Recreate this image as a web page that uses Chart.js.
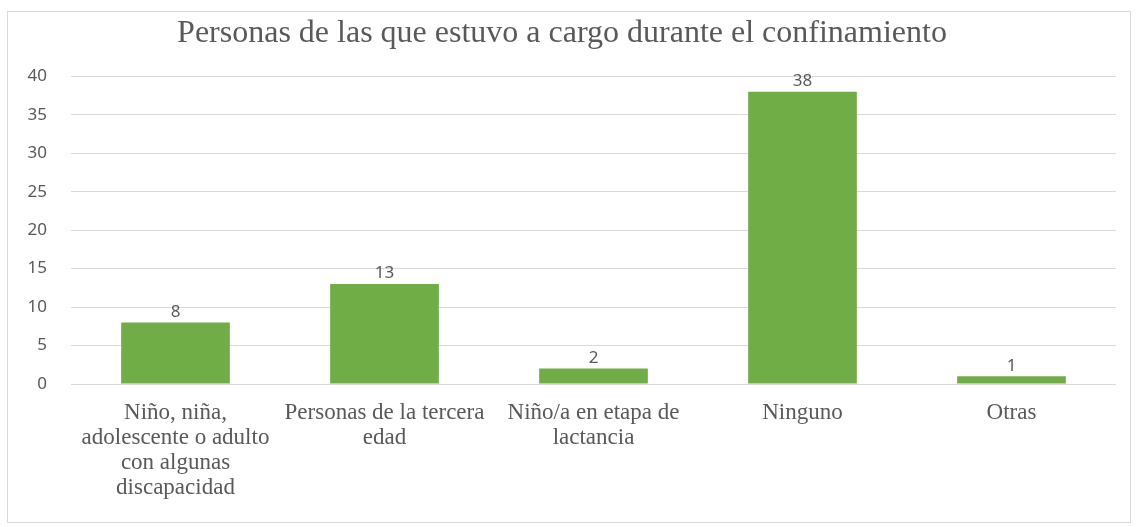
<!DOCTYPE html>
<html>
<head>
<meta charset="utf-8">
<script src="https://cdn.jsdelivr.net/npm/chart.js@4"></script>
<style>
  html, body { margin: 0; padding: 0; background: #fff; }
  #frame {
    position: absolute; left: 7px; top: 11px;
    width: 1122px; height: 510px;
    border: 1px solid #d9d9d9;
  }
</style>
</head>
<body>
<div id="frame"><canvas id="chart"></canvas></div>
<script>
const chartTitle = 'Personas de las que estuvo a cargo durante el confinamiento';
const categories = [
  ['Niño, niña,', 'adolescente o adulto', 'con algunas', 'discapacidad'],
  ['Personas de la tercera', 'edad'],
  ['Niño/a en etapa de', 'lactancia'],
  ['Ninguno'],
  ['Otras'],
];
const counts = [8, 13, 2, 38, 1];
const yTicks = [0, 5, 10, 15, 20, 25, 30, 35, 40];

const grey = '#595959';

// value labels above each bar
const barValues = {
  id: 'barValues',
  afterDatasetsDraw(chart) {
    const ctx = chart.ctx;
    const meta = chart.getDatasetMeta(0);
    ctx.save();
    ctx.font = '17px "Noto Sans"';
    ctx.fillStyle = grey;
    ctx.textAlign = 'center';
    ctx.textBaseline = 'bottom';
    meta.data.forEach((bar, i) => {
      ctx.fillText(String(counts[i]), bar.x, bar.y - 2);
    });
    ctx.restore();
  },
};

new Chart(document.getElementById('chart'), {
  type: 'bar',
  data: {
    labels: categories,
    datasets: [{
      data: counts,
      backgroundColor: '#70ad47',
      categoryPercentage: 1,
      barPercentage: 0.52,
    }],
  },
  options: {
    responsive: true,
    maintainAspectRatio: false,
    animation: false,
    layout: { padding: { left: 0, right: 14, top: 0, bottom: 0 } },
    plugins: {
      legend: { display: false },
      tooltip: { enabled: false },
      title: {
        display: true,
        text: chartTitle,
        color: grey,
        font: { family: '"Liberation Serif"', size: 32, weight: 'normal' },
        padding: { top: 2, bottom: 24 },
      },
    },
    scales: {
      x: {
        afterFit(scale) { scale.height = 138; },
        grid: { display: false, drawTicks: false },
        border: { display: false },
        ticks: {
          color: grey,
          font: { family: '"Liberation Serif"', size: 23, lineHeight: 1.09 },
          padding: 16,
          maxRotation: 0,
          autoSkip: false,
        },
      },
      y: {
        min: 0,
        max: 40,
        afterBuildTicks(scale) {
          scale.ticks = yTicks.map((v) => ({ value: v }));
        },
        afterFit(scale) { scale.width = 63; },
        grid: { color: '#d9d9d9', drawTicks: false },
        border: { display: false },
        ticks: {
          color: grey,
          font: { family: '"Noto Sans"', size: 17 },
          padding: 24,
        },
      },
    },
  },
  plugins: [barValues],
});
</script>
</body>
</html>
